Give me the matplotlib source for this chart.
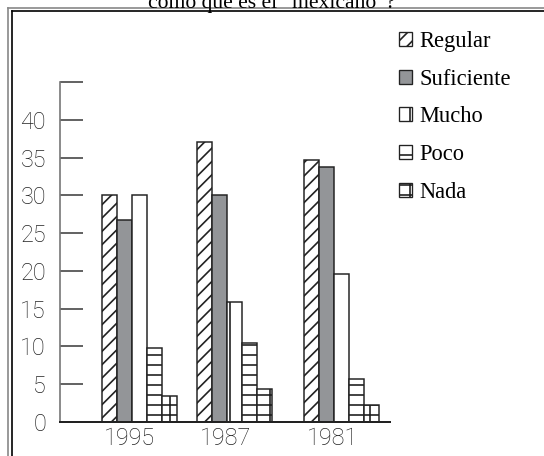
import matplotlib
matplotlib.use('Agg')
import matplotlib.pyplot as plt
from matplotlib.lines import Line2D
from matplotlib.patches import Patch
import numpy as np

# datos (porcentaje)
years = ['1995', '1987', '1981']
regular = [30, 37, 34.7]
suficiente = [26.8, 30, 33.8]
mucho = [30, 15.9, 19.6]
poco = [9.8, 10.4, 5.7]
nada = [3.5, 4.4, 2.2]

series = [('Regular', regular), ('Suficiente', suficiente), ('Mucho', mucho),
          ('Poco', poco), ('Nada', nada)]
styles = {
    'Regular': dict(facecolor='white', hatch='///'),
    'Suficiente': dict(facecolor='#939598', hatch=None),
    'Mucho': dict(facecolor='white', hatch='|'),
    'Poco': dict(facecolor='white', hatch='--'),
    'Nada': dict(facecolor='white', hatch='--|'),
}

plt.rcParams['hatch.linewidth'] = 1.0

W, H, DPI = 544, 456, 120
fig = plt.figure(figsize=(W / DPI, H / DPI), dpi=DPI)
ax = fig.add_axes([60 / W, 34 / H, 330 / W, 340 / H])

group_pos = np.array([0, 1, 2.12])  # los grupos no están igual espaciados
bw = 0.157
for i, (name, vals) in enumerate(series):
    st = styles[name]
    ax.bar(group_pos + (i - 2) * bw, vals, width=bw, facecolor=st['facecolor'],
           hatch=st['hatch'], edgecolor='#222222', linewidth=0.9)

ax.set_xlim(-0.828, 2.623)
ax.set_ylim(0, 45)

# ejes
for s in ['top', 'right']:
    ax.spines[s].set_visible(False)
ax.spines['left'].set_color('#777777')
ax.spines['left'].set_linewidth(1.0)
ax.spines['bottom'].set_color('#222222')
ax.spines['bottom'].set_linewidth(1.2)

yt = np.arange(0, 50, 5)
ax.set_yticks(yt)
ax.set_yticklabels([str(v) for v in yt[:-1]] + [''])
ax.set_yticks(yt, minor=True)
ax.tick_params(axis='y', which='major', direction='in', length=13.8, width=0.9,
               color='#333333', pad=8.4, labelsize=14, labelcolor='#222222')
ax.tick_params(axis='y', which='minor', direction='out', length=7.8, width=0.9,
               color='#333333')

ax.set_xticks(group_pos - 0.1)
ax.set_xticklabels(years)
ax.tick_params(axis='x', length=0, pad=3.2, labelsize=14, labelcolor='#222222')
for lab in ax.get_xticklabels() + ax.get_yticklabels():
    lab.set_family('Roboto')
    lab.set_weight('light')

# leyenda
handles = [Patch(facecolor=styles[n]['facecolor'], hatch=styles[n]['hatch'],
                 edgecolor='#222222', linewidth=0.8) for n, _ in series]
fig.legend(handles, [n for n, _ in series], loc='upper left',
           bbox_to_anchor=(399 / W, 1 - 31 / H), bbox_transform=fig.transFigure,
           frameon=False, borderpad=0, borderaxespad=0, handlelength=0.58,
           handleheight=0.58, handletextpad=0.33, labelspacing=0.74,
           prop={'family': 'Liberation Serif', 'size': 13.5})

# título cortado arriba
fig.text(272 / W, 1 - 8 / H, 'cómo que es el “mexicano”?', ha='center',
         va='baseline', family='Liberation Serif', fontsize=13)

# marco doble
fig.add_artist(Line2D([8 / W, 8 / W], [0, 1 - 8 / H], transform=fig.transFigure,
                      color='#888888', lw=1.0))
fig.add_artist(Line2D([8 / W, 1], [1 - 8 / H, 1 - 8 / H], transform=fig.transFigure,
                      color='#888888', lw=1.0))
fig.add_artist(Line2D([12 / W, 12 / W], [0, 1 - 11 / H], transform=fig.transFigure,
                      color='black', lw=1.0))
fig.add_artist(Line2D([12 / W, 1], [1 - 11 / H, 1 - 11 / H], transform=fig.transFigure,
                      color='black', lw=1.0))

fig.savefig('out.png', dpi=DPI)
